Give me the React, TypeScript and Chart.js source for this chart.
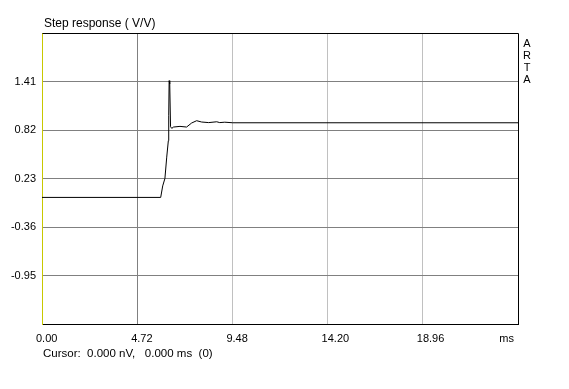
import React, { useEffect, useRef } from "react";
import { Chart, registerables } from "chart.js";

Chart.register(...registerables);

// ---- data ----
const timeMs = [0, 5.91, 6.01, 6.12, 6.21, 6.29, 6.31, 6.33, 6.36, 6.4, 6.46, 6.55, 6.87, 7.2, 7.45, 7.7, 7.95, 8.3, 8.7, 8.85, 9.1, 9.5, 23.7];
const stepResponse = [0, 0, 0.14, 0.23, 0.49, 0.69, 1.0, 1.42, 1.38, 0.86, 0.84, 0.856, 0.864, 0.856, 0.905, 0.933, 0.917, 0.91, 0.92, 0.91, 0.915, 0.908, 0.908];
const xTickLabels = ["0.00", "4.72", "9.48", "14.20", "18.96", "ms"];
const yTickValues = [-1.54, -0.95, -0.36, 0.23, 0.82, 1.41, 2.0];
const yTickLabels = ["", "-0.95", "-0.36", "0.23", "0.82", "1.41", ""];
const xMin = 0;
const xMax = 23.7;
const chartTitle = "Step response ( V/V)";
const cursorText = "Cursor:  0.000 nV,   0.000 ms  (0)";
const brandLetters = ["A", "R", "T", "A"];

const FONT = '"Liberation Sans", Arial, sans-serif';

const textPlugin = {
  id: "artaText",
  afterDraw(chart: any) {
    const ctx = chart.ctx;
    const area = chart.chartArea;
    const xs = chart.scales.x;
    ctx.save();
    // top & right borders
    ctx.strokeStyle = "#000";
    ctx.lineWidth = 1;
    ctx.beginPath();
    ctx.moveTo(Math.round(area.left) + 0.5, Math.round(area.top) + 0.5);
    ctx.lineTo(Math.round(area.right) + 0.5, Math.round(area.top) + 0.5);
    ctx.lineTo(Math.round(area.right) + 0.5, Math.round(area.bottom) + 0.5);
    ctx.stroke();

    ctx.fillStyle = "#000";
    ctx.textBaseline = "middle";
    // title
    ctx.font = `12px ${FONT}`;
    ctx.textAlign = "left";
    ctx.fillText(chartTitle, area.left + 2, area.top - 9);
    ctx.font = `11px ${FONT}`;
    // x labels
    xTickLabels.forEach((lab, i) => {
      const v = xMin + (i * (xMax - xMin)) / (xTickLabels.length - 1);
      const px = xs.getPixelForValue(v);
      if (i === xTickLabels.length - 1) {
        ctx.textAlign = "right";
        ctx.fillText(lab, px - 4, area.bottom + 15);
      } else {
        ctx.textAlign = "left";
        ctx.fillText(lab, px - 6, area.bottom + 15);
      }
    });
    // cursor text
    ctx.textAlign = "left";
    ctx.font = `11.5px ${FONT}`;
    ctx.fillText(cursorText, area.left + 1, area.bottom + 30);
    // ARTA
    ctx.font = `11px ${FONT}`;
    ctx.textAlign = "center";
    brandLetters.forEach((l, i) => {
      ctx.fillText(l, area.right + 9, area.top + 11 + i * 12);
    });
    ctx.restore();
  },
};

export default function App() {
  const ref = useRef<HTMLCanvasElement | null>(null);
  useEffect(() => {
    if (!ref.current) return;
    const chart = new Chart(ref.current, {
      type: "line",
      data: {
        datasets: [
          {
            data: timeMs.map((t, i) => ({ x: t, y: stepResponse[i] })),
            borderColor: "#000",
            borderWidth: 1,
            pointRadius: 0,
            tension: 0,
            fill: false,
          },
        ],
      },
      options: {
        animation: false,
        responsive: false,
        maintainAspectRatio: false,
        layout: { padding: { left: 0, right: 51, top: 33, bottom: 0 } },
        plugins: { legend: { display: false }, tooltip: { enabled: false }, title: { display: false } },
        scales: {
          x: {
            type: "linear",
            min: xMin,
            max: xMax,
            afterBuildTicks: (s: any) => {
              s.ticks = xTickLabels.map((_, i) => ({ value: xMin + (i * (xMax - xMin)) / (xTickLabels.length - 1) }));
            },
            afterFit: (s: any) => {
              s.height = 65;
            },
            ticks: { display: false },
            grid: {
              drawTicks: false,
              color: (c: any) => (c.index === 1 ? "#808080" : c.index === 0 || c.index === xTickLabels.length - 1 ? "rgba(0,0,0,0)" : "#c0c0c0"),
            },
            border: { color: "#000", width: 1 },
          },
          y: {
            min: yTickValues[0],
            max: yTickValues[yTickValues.length - 1],
            afterBuildTicks: (s: any) => {
              s.ticks = yTickValues.map((v) => ({ value: v }));
            },
            afterFit: (s: any) => {
              s.width = 42;
            },
            ticks: {
              callback: (_v: any, i: number) => yTickLabels[i],
              padding: 6,
              color: "#000",
              font: { size: 11, family: FONT },
            },
            grid: {
              drawTicks: false,
              color: (c: any) => (c.index === 0 || c.index === yTickValues.length - 1 ? "rgba(0,0,0,0)" : "#808080"),
            },
            border: { color: "#c8c800", width: 1 },
          },
        },
      },
      plugins: [textPlugin],
    });
    return () => chart.destroy();
  }, []);
  return (
    <div style={{ position: "absolute", left: 0, top: 0, width: 569, height: 389, background: "#fff" }}>
      <canvas ref={ref} width={569} height={389} style={{ display: "block", width: 569, height: 389 }} />
    </div>
  );
}
